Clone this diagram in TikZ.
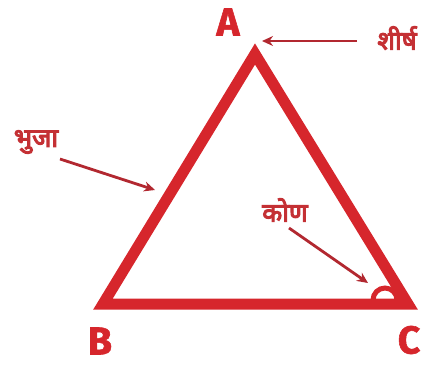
\documentclass[tikz,border=0pt]{standalone}
\usepackage{fontspec}
\setmainfont{Fira Sans}
\newfontfamily\hindi[Script=Devanagari,FakeBold=4]{Noto Sans}
\newfontfamily\vfont[FakeBold=1.5]{Fira Sans Bold}
\usetikzlibrary{arrows.meta}
\definecolor{tri}{RGB}{214,38,44}
\definecolor{arr}{RGB}{178,40,48}
\definecolor{txt}{RGB}{196,48,52}
\tikzset{
  vlabel/.style={text=tri,font=\vfont\fontsize{39}{39}\selectfont,inner sep=0pt},
  hlabel/.style={text=txt,font=\hindi\fontsize{26}{26}\selectfont,inner sep=0pt},
  pointer/.style={draw=arr,line width=2.8pt,-{Stealth[length=11pt,width=10pt]}},
}
\begin{document}
\begin{tikzpicture}[x=1pt,y=-1pt]
\useasboundingbox (0,0) rectangle (427,370);
\coordinate (A) at (255,54);
\coordinate (B) at (103,304);
\coordinate (C) at (408,304);
\draw[tri,line width=11pt,miter limit=10] (A) -- (B) -- (C) -- cycle;
\draw[tri,line width=5pt] (373,300) arc[start angle=180,end angle=0,radius=12pt];
\node[vlabel] (la) at (228,22) {A};
\node[vlabel] (lb) at (100,341) {B};
\node[vlabel] (lc) at (409,340) {C};
\node[hlabel] (sh) at (397,38) {शीर्ष};
\node[hlabel] (bh) at (36,142) {भुजा};
\node[hlabel] (ko) at (285,210) {कोण};
\coordinate (shend) at (262,41);
\coordinate (bhend) at (155,190);
\coordinate (koend) at (368,283);
\draw[pointer] (357,41) -- (shend);
\draw[pointer] (60,159) -- (bhend);
\draw[pointer] (289,228) -- (koend);
\end{tikzpicture}
\end{document}
